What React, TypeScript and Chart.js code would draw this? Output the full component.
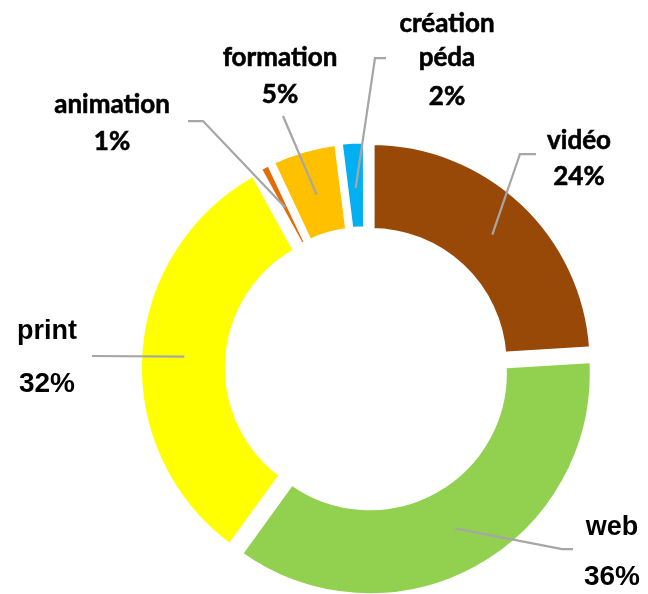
import { useEffect, useRef } from 'react';
import { Chart, registerables } from 'chart.js';

Chart.register(...registerables);

// ---- data ----
const categories = ['vidéo', 'web', 'print', 'animation', 'formation', 'création péda'];
const shares = [24, 36, 32, 1, 5, 2];
const sliceColors = ['#984807', '#92D050', '#FFFF00', '#E36C09', '#FFC000', '#00B0F0'];
const sliceOffsets = [24, 24, 24, 12, 14, 13];

// ---- label layout (text lines, baselines, leader anchor points) ----
const labelLines = [['vidéo'], ['web'], ['print'], ['animation'], ['formation'], ['création', 'péda']];
const labelX = [579, 612, 47, 112, 280, 447];
const labelBaselines = [[149, 185], [535, 585], [339, 392], [113, 150], [66, 103], [32, 66, 105]];
const labelArial = [false, true, true, false, false, false];
const leaderAnchors: number[][][] = [
  [[536, 154], [520, 154]],
  [[573, 549], [562, 549]],
  [[92, 356]],
  [[188, 121], [203, 121]],
  [[283, 116]],
  [[386, 58], [375, 58]],
];

const total = shares.reduce((a, b) => a + b, 0);

const labelPlugin = {
  id: 'outsideLabels',
  afterDatasetsDraw(chart: any) {
    const ctx = chart.ctx as CanvasRenderingContext2D;
    const meta = chart.getDatasetMeta(0);
    ctx.save();
    meta.data.forEach((arc: any, i: number) => {
      const { x, y, startAngle, endAngle, innerRadius, outerRadius } = arc.getProps(
        ['x', 'y', 'startAngle', 'endAngle', 'innerRadius', 'outerRadius'],
        true,
      );
      const t = (arc.options.offset || 0) / 4;
      const half = (startAngle + endAngle) / 2;
      const r = (innerRadius + outerRadius) / 2 + t;
      const px = x + Math.cos(half) * r;
      const py = y + Math.sin(half) * r;
      // leader line
      ctx.strokeStyle = '#A6A6A6';
      ctx.lineWidth = 2.25;
      ctx.lineJoin = 'miter';
      ctx.beginPath();
      const pts = leaderAnchors[i];
      ctx.moveTo(pts[0][0], pts[0][1]);
      for (let k = 1; k < pts.length; k++) ctx.lineTo(pts[k][0], pts[k][1]);
      ctx.lineTo(px, py);
      ctx.stroke();
      // text
      const lines = [...labelLines[i], Math.round((shares[i] / total) * 100) + '%'];
      ctx.fillStyle = '#000000';
      ctx.strokeStyle = '#000000';
      ctx.textAlign = 'center';
      ctx.textBaseline = 'alphabetic';
      lines.forEach((txt, k) => {
        const isPct = k === lines.length - 1;
        if (labelArial[i]) {
          ctx.font = isPct ? 'bold 28px "Liberation Sans", Arial, sans-serif' : 'bold 27px "Liberation Sans", Arial, sans-serif';
          ctx.fillText(txt, labelX[i], labelBaselines[i][k]);
        } else {
          ctx.font = 'bold 26px Lato, "Open Sans", sans-serif';
          ctx.fillText(txt, labelX[i], labelBaselines[i][k]);
          ctx.lineWidth = 0.6;
          ctx.strokeText(txt, labelX[i], labelBaselines[i][k]);
        }
      });
    });
    ctx.restore();
  },
};

export default function App() {
  const canvasRef = useRef<HTMLCanvasElement | null>(null);

  useEffect(() => {
    if (!canvasRef.current) return;
    const chart = new Chart(canvasRef.current, {
      type: 'doughnut',
      data: {
        labels: categories,
        datasets: [
          {
            data: shares,
            backgroundColor: sliceColors,
            borderColor: '#FFFFFF',
            borderWidth: 7,
            offset: sliceOffsets,
            radius: 222,
            cutout: '59.5%',
            clip: false,
          } as any,
        ],
      },
      options: {
        responsive: true,
        maintainAspectRatio: false,
        animation: false,
        layout: { padding: { left: 86, right: 0, top: 142, bottom: 0 } },
        plugins: {
          legend: { display: false },
          tooltip: { enabled: false },
        },
      },
      plugins: [labelPlugin],
    });
    return () => chart.destroy();
  }, []);

  return (
    <div style={{ position: 'fixed', left: 0, top: 0, width: 648, height: 594, background: '#ffffff' }}>
      <canvas ref={canvasRef} />
    </div>
  );
}
